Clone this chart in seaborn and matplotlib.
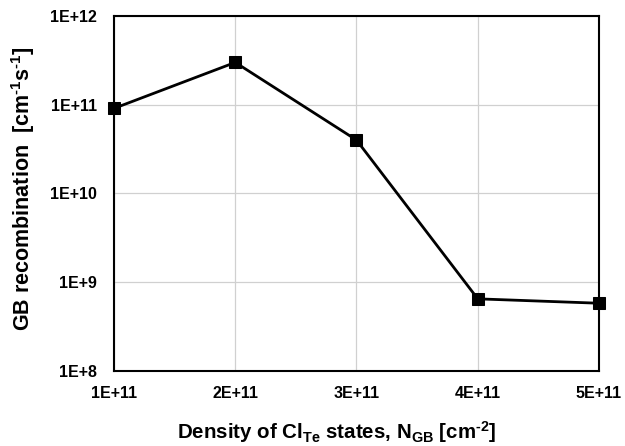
import matplotlib
matplotlib.use("Agg")
import matplotlib.pyplot as plt
import seaborn as sns
import pandas as pd

# Cl_Te state density at the grain boundary and resulting GB recombination
density = [1e11, 2e11, 3e11, 4e11, 5e11]
recombination = [9.1e10, 3.0e11, 4.0e10, 6.5e8, 5.8e8]
x_ticks = [1e11, 2e11, 3e11, 4e11, 5e11]
x_tick_labels = ["1E+11", "2E+11", "3E+11", "4E+11", "5E+11"]
y_ticks = [1e8, 1e9, 1e10, 1e11, 1e12]
y_tick_labels = ["1E+8", "1E+9", "1E+10", "1E+11", "1E+12"]

sns.set_style("white")
plt.rcParams["font.family"] = ["Liberation Sans", "DejaVu Sans"]
plt.rcParams["font.weight"] = "bold"
plt.rcParams["text.color"] = "black"
plt.rcParams["axes.labelcolor"] = "black"
plt.rcParams["xtick.color"] = "black"
plt.rcParams["ytick.color"] = "black"
plt.rcParams["mathtext.fontset"] = "custom"
plt.rcParams["mathtext.rm"] = "Liberation Sans:bold"
plt.rcParams["mathtext.bf"] = "Liberation Sans:bold"
plt.rcParams["mathtext.default"] = "bf"

df = pd.DataFrame({"density": density, "recombination": recombination})

fig = plt.figure(figsize=(6.25, 4.46), dpi=100)
ax = fig.add_axes([0.1824, 0.1682, 0.776, 0.7959])

sns.lineplot(data=df, x="density", y="recombination", ax=ax,
             color="black", linewidth=2, marker="s", markersize=8,
             markeredgecolor="black", markerfacecolor="black", clip_on=False,
             zorder=5)

ax.set_yscale("log")
ax.set_xlim(1e11, 5e11)
ax.set_ylim(1e8, 1e12)
ax.set_xticks(x_ticks)
ax.set_xticklabels(x_tick_labels, fontweight="bold", fontsize=11.5, color="black")
ax.set_yticks(y_ticks)
ax.set_yticklabels(y_tick_labels, fontweight="bold", fontsize=11.5, color="black")
ax.minorticks_off()

ax.grid(True, color="#d0d0d0", linewidth=0.9)
ax.set_axisbelow(True)
for s in ax.spines.values():
    s.set_color("black")
    s.set_linewidth(1.5)

ax.tick_params(axis="both", which="major", direction="out", length=4.5,
               width=1, color="black")
ax.tick_params(axis="y", pad=8)
ax.tick_params(axis="x", pad=6)

ax.set_xlabel(r"Density of Cl$_{Te}$ states, N$_{GB}$ [cm$^{\text{-}2}$]",
              fontsize=14.8, fontweight="bold", color="black")
ax.set_ylabel(r"GB recombination  [cm$^{\text{-}1}$s$^{\text{-}1}$]",
              fontsize=15.5, fontweight="bold", color="black")
ax.xaxis.set_label_coords(0.46, -0.135)
ax.yaxis.set_label_coords(-0.158, 0.513)

fig.savefig("out.png", dpi=100)
